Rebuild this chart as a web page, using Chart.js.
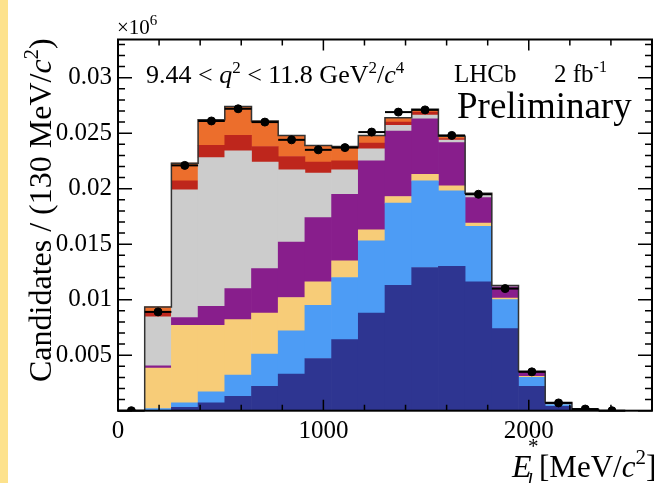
<!DOCTYPE html>
<html>
<head>
<meta charset="utf-8">
<script src="https://cdn.jsdelivr.net/npm/chart.js@4/dist/chart.umd.min.js"></script>
<style>
  html, body { margin: 0; padding: 0; background: #fff; }
  #wrap { width: 657px; height: 483px; position: relative; }
</style>
</head>
<body>
<div id="wrap"><canvas id="chartEl" width="657" height="483"></canvas></div>
<script>
// bin lower edges, 130 MeV/c2 wide
const binLow = [0, 130, 260, 390, 520, 650, 780, 910, 1040, 1170, 1300, 1430, 1560, 1690, 1820, 1950, 2080, 2210, 2340, 2470];
const binWidth = 130;

// stacked components (bottom to top), units of 10^6 candidates
const navy = [0, 0, 0.0003, 0.0007, 0.0013, 0.0022, 0.0033, 0.0047, 0.0064, 0.0088, 0.0113, 0.0129, 0.0130, 0.0116, 0.0074, 0.0022, 0.0004, 0.00005, 0, 0];
const lightBlue = [0, 0.0002, 0.0004, 0.0010, 0.0019, 0.0029, 0.0039, 0.0048, 0.0056, 0.0065, 0.0074, 0.0078, 0.0068, 0.0050, 0.0026, 0.0008, 0.00015, 0.00003, 0, 0];
const yellow = [0, 0.00365, 0.0070, 0.0060, 0.0050, 0.0037, 0.0030, 0.0021, 0.0015, 0.0010, 0.0006, 0.0006, 0.00045, 0.0003, 0.00015, 0.0001, 0.00003, 0.00001, 0, 0];
const purple = [0, 0.0002, 0.0007, 0.0017, 0.0028, 0.0040, 0.0050, 0.0058, 0.0060, 0.0062, 0.0059, 0.0050, 0.0039, 0.0023, 0.0010, 0.00036, 0.00008, 0.00001, 0, 0];
const gray = [0, 0.0044, 0.0115, 0.0134, 0.0124, 0.0096, 0.0065, 0.0040, 0.0022, 0.0011, 0.0005, 0.00033, 0.00022, 0.0002, 0.00005, 0.00004, 0.00002, 0, 0, 0];
const red = [0, 0.00045, 0.0008, 0.0011, 0.0014, 0.0014, 0.0012, 0.0010, 0.0008, 0.0005, 0.0003, 0.00027, 0.00015, 0.0001, 0.00004, 0.00003, 0.00002, 0, 0, 0];
const orange = [0, 0.00045, 0.0016, 0.0023, 0.0026, 0.0023, 0.0019, 0.0015, 0.0013, 0.0007, 0.0004, 0.00025, 0.0002, 0.00008, 0.00004, 0.00002, 0.00003, 0.00001, 0, 0];

// data points
const dataPts = [0, 0.0089, 0.0221, 0.0261, 0.0272, 0.0260, 0.0244, 0.0235, 0.0237, 0.0251, 0.0269, 0.0271, 0.0248, 0.0195, 0.0110, 0.0035, 0.0007, 0.00015, 0, null];

// axis ticks
const xTickLabels = [0, 1000, 2000];
const xMinorStep = 200;
const yTickLabels = [0, 0.005, 0.01, 0.015, 0.02, 0.025, 0.03];
const yMinorStep = 0.001;
const xMax = 2600;
const yMax = 0.03344;

const serif = "'Liberation Serif', 'DejaVu Serif', serif";

const components = [
    { label: 'navy', data: navy, color: '#2e3591' },
    { label: 'lightBlue', data: lightBlue, color: '#4d9cf5' },
    { label: 'yellow', data: yellow, color: '#f7cc78' },
    { label: 'purple', data: purple, color: '#881e8c' },
    { label: 'gray', data: gray, color: '#cccccc' },
    { label: 'red', data: red, color: '#be261c' },
    { label: 'orange', data: orange, color: '#ec6e2c' },
];

const centers = binLow.map(x => x + binWidth / 2);

// total of stack, used for the outline
const totals = binLow.map((_, i) => components.reduce((s, c) => s + c.data[i], 0));
const outline = binLow.map((x, i) => ({ x: x, y: totals[i] }));
outline.push({ x: binLow[binLow.length - 1] + binWidth, y: totals[totals.length - 1] });

const datasets = components.map(c => ({
    type: 'bar',
    label: c.label,
    data: c.data.map((v, i) => ({ x: centers[i], y: v })),
    backgroundColor: c.color,
    borderWidth: 0,
    barPercentage: 1,
    categoryPercentage: 1,
    order: 3,
}));

datasets.push({
    type: 'line',
    label: 'outline',
    data: outline,
    stepped: true,
    borderColor: '#333',
    borderWidth: 1.5,
    pointRadius: 0,
    fill: false,
    stack: 'outline',
    order: 2,
});

datasets.push({
    type: 'line',
    label: 'data',
    data: dataPts.map((v, i) => ({ x: centers[i], y: v })),
    showLine: false,
    pointRadius: 4,
    pointBackgroundColor: '#000',
    pointBorderColor: '#000',
    stack: 'data',
    order: 1,
});

// draws text made of pieces with different styles
function drawRich(ctx, x, y, parts, base) {
    for (const p of parts) {
        const size = p.size || base;
        ctx.font = (p.it ? 'italic ' : '') + size + 'px ' + serif;
        ctx.fillText(p.t, x, y + (p.dy || 0));
        x += ctx.measureText(p.t).width;
    }
}

const decorPlugin = {
    id: 'decor',
    beforeDraw(chart) {
        const ctx = chart.ctx;
        ctx.save();
        ctx.fillStyle = '#fde28c';
        ctx.fillRect(0, 0, 8, chart.height);
        ctx.restore();
    },
    afterDatasetsDraw(chart) {
        const ctx = chart.ctx;
        const xs = chart.scales.x, ys = chart.scales.y;
        // horizontal error bars of the data points
        ctx.save();
        ctx.strokeStyle = '#000';
        ctx.lineWidth = 2;
        dataPts.forEach((v, i) => {
            if (v === null) return;
            const py = ys.getPixelForValue(v);
            ctx.beginPath();
            ctx.moveTo(xs.getPixelForValue(binLow[i]), py);
            ctx.lineTo(xs.getPixelForValue(binLow[i] + binWidth), py);
            ctx.stroke();
        });
        ctx.restore();
    },
    afterDraw(chart) {
        const ctx = chart.ctx;
        const a = chart.chartArea;
        const xs = chart.scales.x, ys = chart.scales.y;
        ctx.save();
        ctx.strokeStyle = '#000';

        // inward ticks on all four sides
        ctx.lineWidth = 1.5;
        ctx.beginPath();
        for (let v = 0; v <= xMax; v += xMinorStep) {
            const px = xs.getPixelForValue(v);
            const len = xTickLabels.includes(v) ? 11 : 6;
            ctx.moveTo(px, a.bottom); ctx.lineTo(px, a.bottom - len);
            ctx.moveTo(px, a.top); ctx.lineTo(px, a.top + len);
        }
        for (let k = 0; k * yMinorStep <= yMax; k++) {
            const v = k * yMinorStep;
            const py = ys.getPixelForValue(v);
            const len = (k % 5 === 0) ? 14 : 7;
            ctx.moveTo(a.left, py); ctx.lineTo(a.left + len, py);
            ctx.moveTo(a.right, py); ctx.lineTo(a.right - len, py);
        }
        ctx.stroke();

        // frame
        ctx.lineWidth = 2;
        ctx.strokeRect(a.left, a.top, a.right - a.left, a.bottom - a.top);

        ctx.fillStyle = '#000';
        ctx.textBaseline = 'alphabetic';
        ctx.textAlign = 'left';

        // exponent
        drawRich(ctx, 117, 34, [{ t: '\u00d710' }, { t: '6', size: 15, dy: -9 }], 21);

        // selection label
        drawRich(ctx, 146, 83, [
            { t: '9.44 < ' }, { t: 'q', it: true }, { t: '2', size: 17, dy: -10 },
            { t: ' < 11.8 GeV' }, { t: '2', size: 17, dy: -10 }, { t: '/' },
            { t: 'c', it: true }, { t: '4', size: 17, dy: -10 },
        ], 26);

        drawRich(ctx, 454, 82, [{ t: 'LHCb' }], 25);
        drawRich(ctx, 554, 82, [{ t: '2 fb' }, { t: '-1', size: 16, dy: -10 }], 25);
        drawRich(ctx, 457, 118, [{ t: 'Preliminary' }], 37);

        // y title
        ctx.save();
        ctx.translate(51, 382);
        ctx.rotate(-Math.PI / 2);
        drawRich(ctx, 0, 0, [
            { t: 'Candidates / (130 MeV/' }, { t: 'c', it: true },
            { t: '2', size: 21, dy: -13 }, { t: ')' },
        ], 32);
        ctx.restore();

        // x title
        drawRich(ctx, 512, 477, [{ t: 'E', it: true }], 32);
        drawRich(ctx, 528, 453, [{ t: '*' }], 21);
        drawRich(ctx, 527, 487, [{ t: 'l', it: true }], 21);
        drawRich(ctx, 539, 477, [
            { t: '[MeV/' }, { t: 'c', it: true }, { t: '2', size: 21, dy: -13 }, { t: ']' },
        ], 31);

        ctx.restore();
    }
};

const ctxChart = document.getElementById('chartEl').getContext('2d');

const chart = new Chart(ctxChart, {
    type: 'bar',
    data: { datasets: datasets },
    plugins: [decorPlugin],
    options: {
        responsive: false,
        animation: false,
        layout: { padding: { top: 39.5, right: 2, left: 0, bottom: 0 } },
        plugins: {
            legend: { display: false },
            tooltip: { enabled: false },
        },
        scales: {
            x: {
                type: 'linear',
                stacked: true,
                offset: false,
                min: 0,
                max: xMax,
                grid: { display: false, drawTicks: false, offset: false },
                border: { display: false },
                afterBuildTicks: scale => { scale.ticks = xTickLabels.map(v => ({ value: v })); },
                afterFit: scale => { scale.height = 72.3; },
                ticks: {
                    autoSkip: false,
                    maxRotation: 0,
                    padding: 6,
                    color: '#000',
                    font: { family: serif, size: 25 },
                    callback: v => String(v),
                },
            },
            y: {
                type: 'linear',
                stacked: true,
                min: 0,
                max: yMax,
                grid: { display: false, drawTicks: false },
                border: { display: false },
                afterBuildTicks: scale => { scale.ticks = yTickLabels.map(v => ({ value: v })); },
                afterFit: scale => { scale.width = 118; },
                ticks: {
                    padding: 6,
                    color: '#000',
                    font: { family: serif, size: 25 },
                    callback: v => v === 0 ? '' : String(parseFloat(v.toFixed(3))),
                },
            },
        },
    },
});
</script>
</body>
</html>
